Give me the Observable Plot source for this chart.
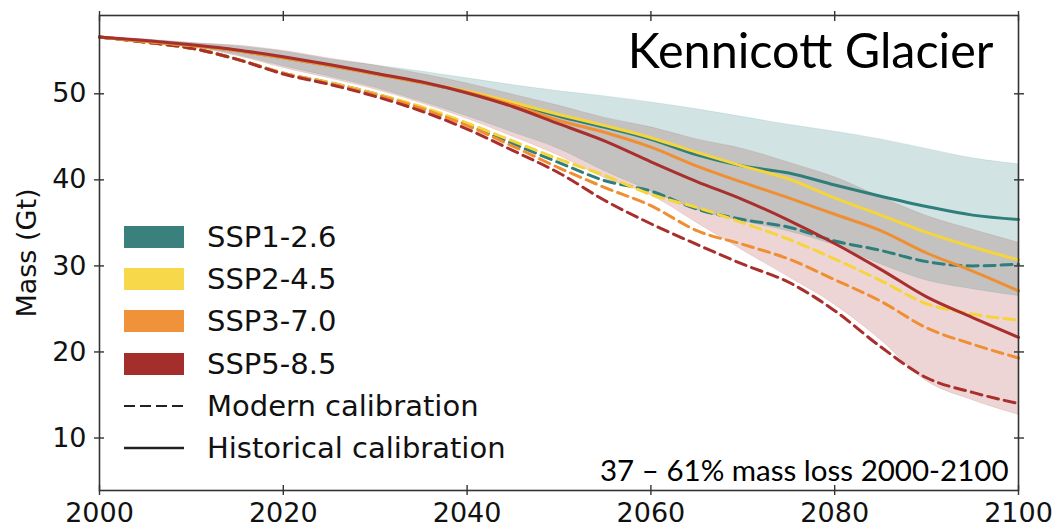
<!DOCTYPE html>
<html>
<head>
<meta charset="utf-8">
<script src="https://cdn.jsdelivr.net/npm/d3@7"></script>
<script src="https://cdn.jsdelivr.net/npm/@observablehq/plot@0.6"></script>
<style>
  html, body { margin: 0; padding: 0; background: #fff; }
  #wrap { position: relative; width: 1058px; height: 531px; overflow: hidden; font-family: "DejaVu Sans", sans-serif; }
  #legend { position: absolute; left: 124px; top: 0; }
  .row { position: absolute; left: 0; height: 40px; display: flex; align-items: center; white-space: nowrap; }
  .sw { width: 60px; height: 22px; flex: none; }
  .lab { margin-left: 23px; font-size: 29px; color: #111; }
</style>
</head>
<body>
<div id="wrap"></div>
<script>
// ---------------- data ----------------
const years = [2000, 2005, 2010, 2015, 2020, 2025, 2030, 2035, 2040, 2045, 2050,
               2055, 2060, 2065, 2070, 2075, 2080, 2085, 2090, 2095, 2100];

// Historical calibration (solid)
const ssp126Hist = [56.6, 56.1, 55.6, 55.0, 54.2, 53.3, 52.3, 51.3, 50.2, 48.9, 47.4, 46.1, 44.7, 42.9, 41.6, 40.8, 39.4, 38.1, 36.9, 35.9, 35.4];
const ssp245Hist = [56.6, 56.1, 55.6, 55.0, 54.2, 53.3, 52.3, 51.3, 50.3, 49.0, 47.6, 46.3, 44.9, 43.2, 41.6, 40.1, 37.9, 35.9, 33.9, 32.2, 30.7];
const ssp370Hist = [56.6, 56.1, 55.6, 55.0, 54.2, 53.3, 52.3, 51.3, 50.2, 48.7, 46.9, 45.5, 43.8, 41.6, 39.7, 37.9, 36.0, 34.1, 31.5, 29.4, 27.1];
const ssp585Hist = [56.6, 56.2, 55.7, 55.1, 54.3, 53.4, 52.4, 51.4, 50.1, 48.5, 46.5, 44.5, 42.1, 39.8, 37.7, 35.3, 32.6, 29.6, 26.4, 24.0, 21.7];

// Modern calibration (dashed)
const ssp126Mod = [56.6, 56.0, 55.3, 54.0, 52.4, 51.3, 50.0, 48.4, 46.4, 44.2, 42.0, 39.9, 38.7, 36.6, 35.4, 34.5, 32.9, 31.8, 30.5, 30.0, 30.2];
const ssp245Mod = [56.6, 56.0, 55.3, 54.0, 52.4, 51.3, 50.0, 48.5, 46.6, 44.5, 42.4, 40.5, 38.3, 36.8, 35.0, 33.1, 30.8, 28.3, 25.6, 24.4, 23.7];
const ssp370Mod = [56.6, 56.0, 55.3, 54.0, 52.4, 51.2, 49.9, 48.3, 46.3, 43.9, 41.4, 39.1, 37.0, 34.1, 32.5, 30.8, 28.4, 25.9, 22.8, 20.9, 19.3];
const ssp585Mod = [56.6, 56.0, 55.3, 54.0, 52.3, 51.1, 49.7, 48.0, 45.9, 43.4, 40.8, 37.6, 34.9, 32.5, 30.2, 28.1, 24.8, 20.6, 17.0, 15.3, 14.0];

// Uncertainty bands
const ssp126Upper = [56.6, 56.3, 55.9, 55.5, 54.9, 54.0, 53.3, 52.6, 51.8, 51.0, 50.3, 49.7, 49.0, 48.2, 47.3, 46.4, 45.6, 44.7, 43.6, 42.5, 41.8];
const ssp126Lower = [56.6, 56.1, 55.5, 54.5, 53.2, 52.0, 50.7, 49.1, 47.4, 45.5, 43.6, 41.0, 38.7, 36.5, 35.2, 34.0, 32.4, 30.2, 28.3, 27.3, 26.5];
const ssp585Upper = [56.6, 56.3, 55.9, 55.6, 55.0, 54.1, 53.3, 52.3, 51.2, 49.9, 48.6, 47.2, 46.1, 44.7, 43.6, 42.0, 40.3, 38.0, 35.8, 34.2, 32.7];
const ssp585Lower = [56.6, 56.0, 55.4, 54.4, 53.0, 51.8, 50.5, 48.9, 47.1, 45.0, 42.8, 40.2, 38.2, 35.0, 31.8, 28.7, 25.5, 21.4, 16.6, 14.4, 12.7];

const xTicks = [2000, 2020, 2040, 2060, 2080, 2100];
const yTicks = [10, 20, 30, 40, 50];
const scenarioNames = ["SSP1-2.6", "SSP2-4.5", "SSP3-7.0", "SSP5-8.5"];
const scenarioColors = ["#2e7f7b", "#f6d43c", "#ef8f32", "#a82f2c"];
const legendColors = ["#3a807c", "#f7d84a", "#f0923a", "#a42e2b"];
const calibrationNames = ["Modern calibration", "Historical calibration"];
const titleText = "Kennicott Glacier";
const noteText = "37 \u2013 61% mass loss 2000-2100";
const yLabelText = "Mass (Gt)";

// ---------------- build ----------------
const histSeries = [ssp126Hist, ssp245Hist, ssp370Hist, ssp585Hist];
const modSeries = [ssp126Mod, ssp245Mod, ssp370Mod, ssp585Mod];
const toRows = arr => years.map((year, i) => ({year, value: arr[i]}));
const bandRows = (lo, hi) => years.map((year, i) => ({year, lo: lo[i], hi: hi[i]}));
const curve = "monotone-x";
const tickColor = "#333";

const chart = Plot.plot({
  width: 1058,
  height: 531,
  marginLeft: 99,
  marginRight: 40,
  marginTop: 15,
  marginBottom: 41,
  style: {fontFamily: "DejaVu Sans, sans-serif", fontSize: "27px", color: "#111", background: "#fff", overflow: "visible"},
  x: {domain: [2000, 2100], label: null},
  y: {domain: [3.9, 59.1], label: null},
  marks: [
    Plot.areaY(bandRows(ssp585Lower, ssp585Upper), {x: "year", y1: "lo", y2: "hi", fill: scenarioColors[3], fillOpacity: 0.2, stroke: scenarioColors[3], strokeOpacity: 0.12, strokeWidth: 1, curve}),
    Plot.areaY(bandRows(ssp126Lower, ssp126Upper), {x: "year", y1: "lo", y2: "hi", fill: scenarioColors[0], fillOpacity: 0.22, stroke: scenarioColors[0], strokeOpacity: 0.12, strokeWidth: 1, curve}),
    ...modSeries.map((arr, k) => Plot.line(toRows(arr), {x: "year", y: "value", stroke: scenarioColors[k], strokeWidth: 3, strokeDasharray: "11,6", curve})),
    ...histSeries.map((arr, k) => Plot.line(toRows(arr), {x: "year", y: "value", stroke: scenarioColors[k], strokeWidth: 3, curve})),
    Plot.frame({stroke: tickColor, strokeWidth: 1.6}),
    Plot.axisX(xTicks, {anchor: "bottom", tickSize: 0, tickPadding: 12, tickFormat: d => String(d), fontSize: 27, fill: "#111", label: null}),
    Plot.axisX(xTicks, {anchor: "bottom", tickSize: 10, inset: 5, tickFormat: () => "", stroke: tickColor, strokeWidth: 1.4, label: null}),
    Plot.axisX(xTicks, {anchor: "top", tickSize: 10, inset: 5, tickFormat: () => "", stroke: tickColor, strokeWidth: 1.4, label: null}),
    Plot.axisY(yTicks, {anchor: "left", tickSize: 0, tickPadding: 13, tickFormat: d => String(d), fontSize: 27, fill: "#111", label: null}),
    Plot.axisY(yTicks, {anchor: "left", tickSize: 10, inset: 5, tickFormat: () => "", stroke: tickColor, strokeWidth: 1.4, label: null}),
    Plot.axisY(yTicks, {anchor: "right", tickSize: 10, inset: 5, tickFormat: () => "", stroke: tickColor, strokeWidth: 1.4, label: null}),
    Plot.text([titleText], {frameAnchor: "top-right", textAnchor: "end", lineAnchor: "top", dx: -25, dy: 18, fontSize: 48.5, fontFamily: "Lato, sans-serif", fill: "#000"}),
    Plot.text([noteText], {frameAnchor: "bottom-right", textAnchor: "end", lineAnchor: "bottom", dx: -10, dy: -10, fontSize: 29.5, fontFamily: "Lato, sans-serif", fill: "#000"}),
    Plot.text([yLabelText], {frameAnchor: "left", rotate: -90, dx: -72, textAnchor: "middle", lineAnchor: "middle", fontSize: 27, fill: "#111"})
  ]
});

const wrap = document.getElementById("wrap");
wrap.appendChild(chart);

// legend (HTML overlay inside the axes)
const legend = document.createElement("div");
legend.id = "legend";
const rowCenters0 = 236.7, rowStep = 42.3;
scenarioNames.forEach((name, i) => {
  const row = document.createElement("div");
  row.className = "row";
  row.style.top = (rowCenters0 + i * rowStep - 20) + "px";
  const sw = document.createElement("div");
  sw.className = "sw";
  sw.style.background = legendColors[i];
  const lab = document.createElement("span");
  lab.className = "lab";
  lab.textContent = name;
  row.appendChild(sw); row.appendChild(lab);
  legend.appendChild(row);
});
calibrationNames.forEach((name, j) => {
  const i = scenarioNames.length + j;
  const row = document.createElement("div");
  row.className = "row";
  row.style.top = (rowCenters0 + i * rowStep - 20) + "px";
  const svg = d3.create("svg").attr("width", 60).attr("height", 8).style("flex", "none");
  svg.append("line").attr("x1", 0).attr("x2", 60).attr("y1", 4).attr("y2", 4)
    .attr("stroke", "#222").attr("stroke-width", j === 0 ? 2 : 2.6)
    .attr("stroke-dasharray", j === 0 ? "11,5" : null);
  const lab = document.createElement("span");
  lab.className = "lab";
  lab.textContent = name;
  row.appendChild(svg.node()); row.appendChild(lab);
  legend.appendChild(row);
});
wrap.appendChild(legend);
</script>
</body>
</html>
